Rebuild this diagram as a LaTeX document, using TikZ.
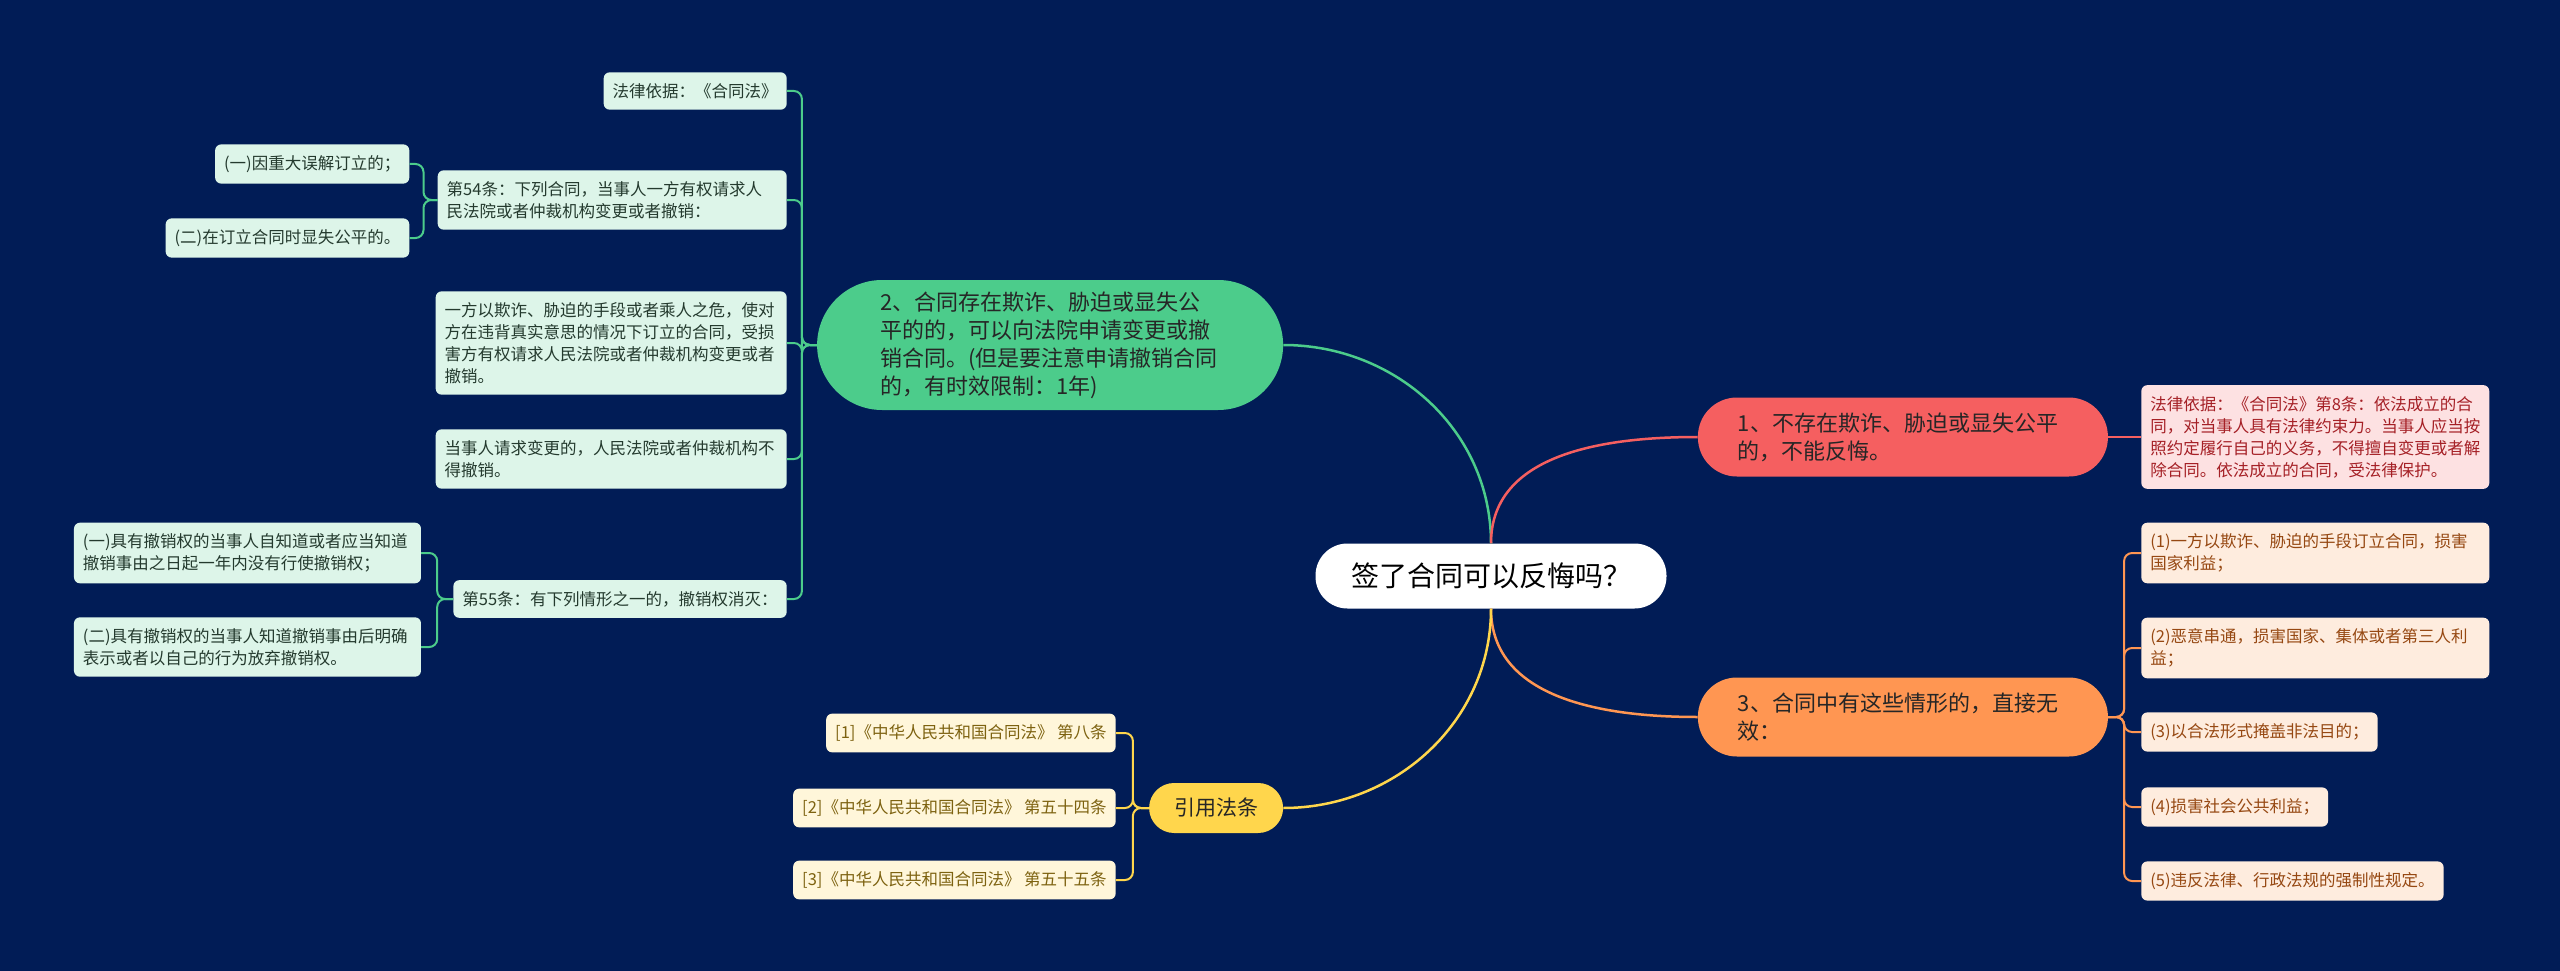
\documentclass[tikz,border=0pt]{standalone}
\usepackage{fontspec}
\setmainfont{Noto Sans CJK SC}
\usepackage{tikz}
\usetikzlibrary{positioning}

\definecolor{bgnavy}{RGB}{1,28,86}
\definecolor{gmain}{RGB}{76,204,139}
\definecolor{gsoft}{RGB}{221,245,233}
\definecolor{gink}{RGB}{36,58,46}
\definecolor{rmain}{RGB}{245,95,96}
\definecolor{rsoft}{RGB}{253,225,226}
\definecolor{rink}{RGB}{165,32,38}
\definecolor{omain}{RGB}{255,150,82}
\definecolor{osoft}{RGB}{254,236,222}
\definecolor{oink}{RGB}{150,72,18}
\definecolor{ymain}{RGB}{255,214,76}
\definecolor{ysoft}{RGB}{255,246,218}
\definecolor{yink}{RGB}{125,98,16}
\definecolor{darkink}{RGB}{38,38,38}

\begin{document}
\begin{tikzpicture}[x=1pt, y=1pt,
        every node/.style={align=left, font=\fontsize{16.5}{22}\selectfont},
        box/.style={rounded corners=6pt, inner xsep=9pt, inner ysep=11pt},
        gbox/.style={box, fill=gsoft, text=gink},
        rbox/.style={box, fill=rsoft, text=rink},
        obox/.style={box, fill=osoft, text=oink},
        ybox/.style={box, fill=ysoft, text=yink},
        pill/.style={minimum width=410pt, minimum height=79pt, rounded corners=39pt,
                     text width=330pt, text=darkink, font=\fontsize{22}{28}\selectfont},
        topic/.style={fill=white, text=black, rounded corners=32pt, minimum width=351pt,
                      minimum height=65pt, align=center, font=\fontsize{28}{32}\selectfont},
        link/.style={line width=2pt, rounded corners=8pt},
        trunk/.style={line width=2.5pt}
    ]
        \fill[bgnavy] (0,0) rectangle (2560,-971);

        \node[topic] (root) at (1491,-576) {签了合同可以反悔吗？};

        % main branches
        \node[pill, fill=gmain, minimum width=466pt, minimum height=130pt, rounded corners=65pt,
              text width=340pt, left=32pt of root, yshift=231pt] (sec2)
            {2、合同存在欺诈、胁迫或显失公\\平的的，可以向法院申请变更或撤\\销合同。(但是要注意申请撤销合同\\的，有时效限制：1年)};
        \node[pill, fill=rmain, right=31pt of root, yshift=139pt] (sec1)
            {1、不存在欺诈、胁迫或显失公平\\的，不能反悔。};
        \node[pill, fill=omain, right=31pt of root, yshift=-141pt] (sec3)
            {3、合同中有这些情形的，直接无\\效：};
        \node[fill=ymain, text=darkink, rounded corners=25pt, minimum width=134pt, minimum height=50pt,
              align=center, font=\fontsize{21}{26}\selectfont, left=32pt of root, yshift=-232pt] (cite) {引用法条};

        % branch 2
        \node[gbox, left=30pt of sec2, yshift=254pt] (law) {法律依据：《合同法》};
        \node[gbox, text width=331pt, left=30pt of sec2, yshift=145pt] (art54)
            {第54条：下列合同，当事人一方有权请求人\\民法院或者仲裁机构变更或者撤销：};
        \node[gbox, text width=333pt, left=30pt of sec2, yshift=2pt] (fraud)
            {一方以欺诈、胁迫的手段或者乘人之危，使对\\方在违背真实意思的情况下订立的合同，受损\\害方有权请求人民法院或者仲裁机构变更或者\\撤销。};
        \node[gbox, text width=333pt, left=30pt of sec2, yshift=-114pt] (change)
            {当事人请求变更的，人民法院或者仲裁机构不\\得撤销。};
        \node[gbox, left=30pt of sec2, yshift=-254pt] (art55) {第55条：有下列情形之一的，撤销权消灭：};

        \node[gbox, left=28pt of art54, yshift=36pt] (err) {(一)因重大误解订立的；};
        \node[gbox, left=28pt of art54, yshift=-38pt] (unfair) {(二)在订立合同时显失公平的。};
        \node[gbox, text width=329pt, left=32pt of art55, yshift=46pt] (lapse)
            {(一)具有撤销权的当事人自知道或者应当知道\\撤销事由之日起一年内没有行使撤销权；};
        \node[gbox, text width=329pt, left=32pt of art55, yshift=-48pt] (waive)
            {(二)具有撤销权的当事人知道撤销事由后明确\\表示或者以自己的行为放弃撤销权。};

        % branch 1
        \node[rbox, text width=330pt, right=33pt of sec1] (basis)
            {法律依据：《合同法》第8条：依法成立的合\\同，对当事人具有法律约束力。当事人应当按\\照约定履行自己的义务，不得擅自变更或者解\\除合同。依法成立的合同，受法律保护。};

        % branch 3
        \node[obox, text width=330pt, right=33pt of sec3, yshift=164pt] (void1)
            {(1)一方以欺诈、胁迫的手段订立合同，损害\\国家利益；};
        \node[obox, text width=330pt, right=33pt of sec3, yshift=69pt] (void2)
            {(2)恶意串通，损害国家、集体或者第三人利\\益；};
        \node[obox, right=33pt of sec3, yshift=-15pt] (void3) {(3)以合法形式掩盖非法目的；};
        \node[obox, right=33pt of sec3, yshift=-90pt] (void4) {(4)损害社会公共利益；};
        \node[obox, right=33pt of sec3, yshift=-164pt] (void5) {(5)违反法律、行政法规的强制性规定。};

        % citations
        \node[ybox, left=33pt of cite, yshift=75pt] (law8) {[1]《中华人民共和国合同法》 第八条};
        \node[ybox, left=33pt of cite] (law54) {[2]《中华人民共和国合同法》 第五十四条};
        \node[ybox, left=33pt of cite, yshift=-72pt] (law55) {[3]《中华人民共和国合同法》 第五十五条};

        % connectors
        \draw[trunk, gmain] (root.north) to[out=90, in=0] (sec2.east);
        \draw[trunk, rmain] (root.north) to[out=90, in=180] (sec1.west);
        \draw[trunk, omain] (root.south) to[out=-90, in=180] (sec3.west);
        \draw[trunk, ymain] (root.south) to[out=-90, in=0] (cite.east);

        \draw[link, gmain] (sec2.west) -- ++(-15,0) |- (law.east);
        \draw[link, gmain] (sec2.west) -- ++(-15,0) |- (art54.east);
        \draw[link, gmain] (sec2.west) -- ++(-15,0) |- (fraud.east);
        \draw[link, gmain] (sec2.west) -- ++(-15,0) |- (change.east);
        \draw[link, gmain] (sec2.west) -- ++(-15,0) |- (art55.east);
        \draw[link, gmain] (art54.west) -- ++(-14,0) |- (err.east);
        \draw[link, gmain] (art54.west) -- ++(-14,0) |- (unfair.east);
        \draw[link, gmain] (art55.west) -- ++(-16,0) |- (lapse.east);
        \draw[link, gmain] (art55.west) -- ++(-16,0) |- (waive.east);

        \draw[link, rmain] (sec1.east) -- (basis.west);

        \draw[link, omain] (sec3.east) -- ++(16,0) |- (void1.west);
        \draw[link, omain] (sec3.east) -- ++(16,0) |- (void2.west);
        \draw[link, omain] (sec3.east) -- ++(16,0) |- (void3.west);
        \draw[link, omain] (sec3.east) -- ++(16,0) |- (void4.west);
        \draw[link, omain] (sec3.east) -- ++(16,0) |- (void5.west);

        \draw[link, ymain] (cite.west) -- ++(-16,0) |- (law8.east);
        \draw[link, ymain] (cite.west) -- ++(-16,0) |- (law54.east);
        \draw[link, ymain] (cite.west) -- ++(-16,0) |- (law55.east);
    \end{tikzpicture}
\end{document}
